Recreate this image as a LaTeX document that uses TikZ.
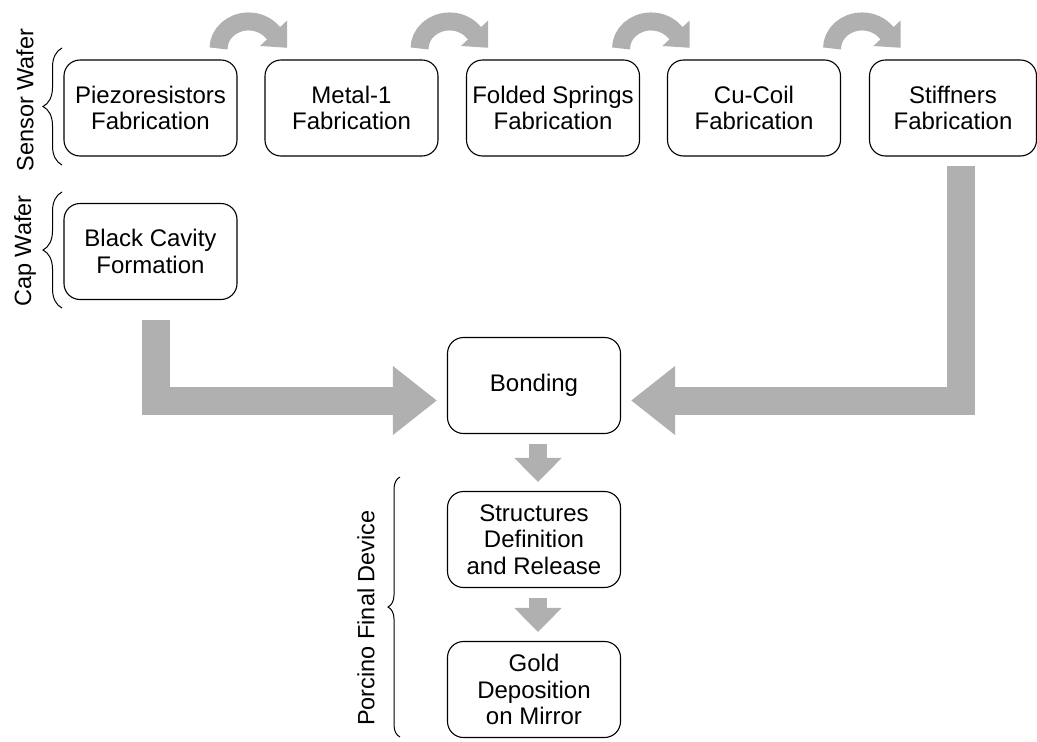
\documentclass[tikz,border=0pt]{standalone}
\usepackage{fontspec}
\setmainfont{Liberation Sans}
\usepackage{tikz}
\usetikzlibrary{arrows.meta, decorations.pathreplacing}
\definecolor{arrowgray}{RGB}{176,176,176}

\begin{document}
\begin{tikzpicture}[x=1pt, y=-1pt,
    box/.style={draw, line width=1.1pt, rounded corners=16pt, minimum width=173pt,
        minimum height=96pt, align=center, inner sep=0pt,
        font=\fontsize{24}{26.5}\selectfont},
    sidelabel/.style={rotate=90, font=\fontsize{23.5}{26}\selectfont},
    fatarrow/.style={draw=arrowgray, line width=28pt, -{Triangle[length=44pt, width=66pt]}},
    smallarrow/.style={draw=arrowgray, line width=18pt, -{Triangle[length=24pt, width=46pt]},
        shorten <=10pt, shorten >=9pt},
    curvearrow/.style={draw=arrowgray, line width=18pt, -{Triangle[length=20pt, width=36pt]}},
    wbrace/.style={decorate, decoration={brace, amplitude=#1}, line width=1pt}]
    \useasboundingbox (0,0) rectangle (1037,742);

    % Sensor wafer steps
    \node[box] (piezo) at (150.5,108) {Piezoresistors\\Fabrication};
    \node[box] (metal) at (351.5,108) {Metal-1\\Fabrication};
    \node[box] (springs) at (553,108) {Folded Springs\\Fabrication};
    \node[box] (coil) at (754,108) {Cu-Coil\\Fabrication};
    \node[box, minimum width=167pt] (stiff) at (953,108) {Stiffners\\Fabrication};

    % Cap wafer
    \node[box] (cavity) at (150.5,251.5) {Black Cavity\\Formation};

    % Final device
    \node[box] (bond) at (534,385.5) {Bonding};
    \node[box] (struct) at (534,539.5) {Structures\\Definition\\and Release};
    \node[box] (gold) at (534,689.5) {Gold\\Deposition\\on Mirror};

    % Side labels and braces
    \node[sidelabel] (sensorlbl) at (25,100) {Sensor Wafer};
    \node[sidelabel] (caplbl) at (25,251) {Cap Wafer};
    \node[sidelabel] (finallbl) at (366,618) {Porcino Final Device};
    \draw[wbrace=19pt] (62,165) -- (62,48);
    \draw[wbrace=19pt] (62,308) -- (62,192);
    \draw[wbrace=12pt] (400,737) -- (400,477);

    % Step arrows
    \foreach \a/\d in {piezo/0, metal/0, springs/0, coil/10}
        \draw[curvearrow] ([shift={(-19+\d,-11)}]\a.north east)
            arc[start angle=180, end angle=322, x radius=30, y radius=27] -- ++(15,16);

    \draw[fatarrow, shorten <=20pt, shorten >=10pt]
        ([xshift=5pt]cavity.south) |- ([yshift=-15pt]bond.west);
    \draw[fatarrow, shorten <=9pt, shorten >=10pt]
        ([xshift=8pt]stiff.south) |- ([yshift=-15pt]bond.east);
    \draw[smallarrow] ([xshift=4pt]bond.south) -- ([xshift=4pt]struct.north);
    \draw[smallarrow] ([xshift=4pt]struct.south) -- ([xshift=4pt]gold.north);
\end{tikzpicture}
\end{document}
